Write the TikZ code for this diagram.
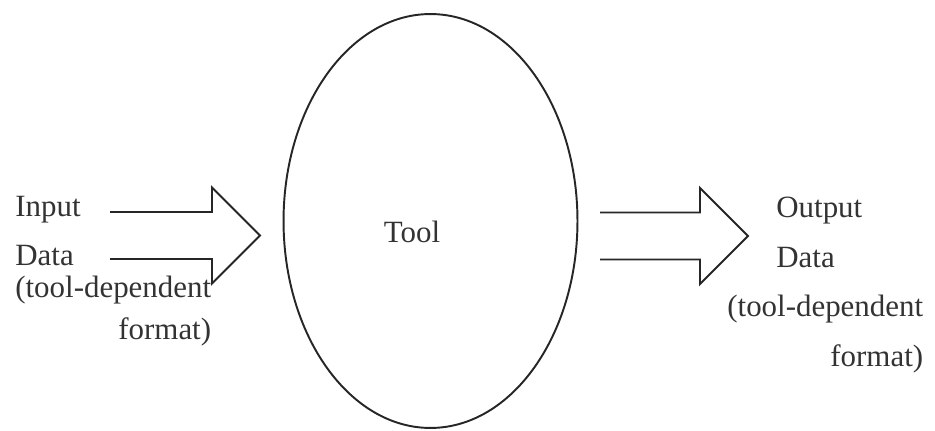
\documentclass[tikz,border=0pt]{standalone}
\usepackage{fontspec}
\setmainfont{Liberation Serif}
\usetikzlibrary{shapes.geometric}
\tikzstyle{fTool} = [ellipse, draw=black!85, line width=1.1pt, minimum width=5.88cm, minimum height=8.28cm, inner sep=0pt]
\tikzstyle{fLabel} = [inner sep=0pt, text=black!80, font=\fontsize{17.6}{20}\selectfont]
\tikzstyle{fArrowLine} = [draw=black!85, line width=1.1pt, line join=miter]
\tikzset{
    pics/openArrow/.style={code={
        \draw [fArrowLine] (0,-23.5) -- (#1,-23.5) -- (#1,-48) -- (#1+48,0) -- (#1,48) -- (#1,23.5) -- (0,23.5);
    }}
}

\begin{document}
\begin{tikzpicture}[x=0.02cm, y=-0.02cm]
    \useasboundingbox (0,0) rectangle (935,431);

    \node (tool) [fTool] at (430.5,221) {};
    \node (toolText) [fLabel] at (412,232) {Tool};

    % input side
    \node (inLine1) [fLabel, anchor=base west] at (15,217) {Input};
    \node (inLine2) [fLabel, anchor=base west] at (15,266) {Data};
    \node (inLine3) [fLabel, anchor=base west] at (15,298) {(tool-dependent};
    \node (inLine4) [fLabel, anchor=base east] at (inLine3.base east |- 0,340) {format)};
    \pic at (110,235.5) {openArrow=102};

    % output side
    \pic at (600,236) {openArrow=100};
    \node (outLine1) [fLabel, anchor=base west] at (776,218) {Output};
    \node (outLine2) [fLabel, anchor=base west] at (776,268) {Data};
    \node (outLine3) [fLabel, anchor=base west] at (727,317) {(tool-dependent};
    \node (outLine4) [fLabel, anchor=base east] at (outLine3.base east |- 0,367) {format)};
\end{tikzpicture}
\end{document}
